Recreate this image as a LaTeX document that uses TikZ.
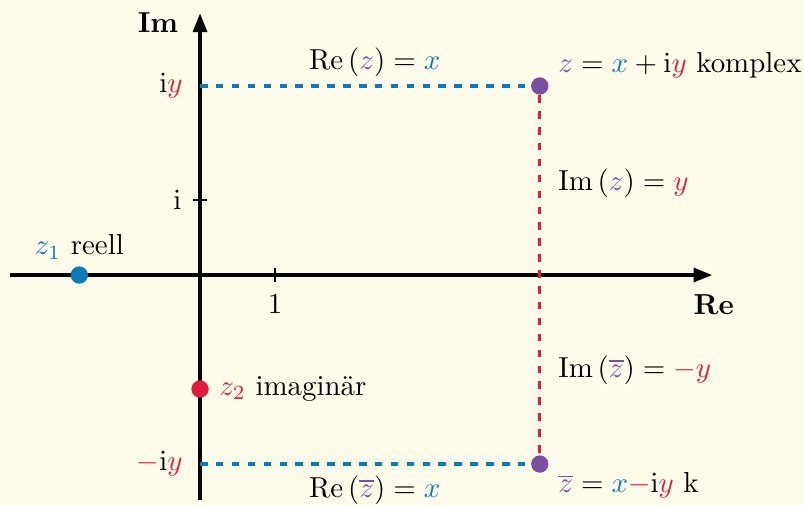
\documentclass[tikz,border=0pt]{standalone}
\usepackage{amsmath}
\usetikzlibrary{arrows.meta,positioning,calc}
\definecolor{paperbg}{HTML}{FFFBEB}
\definecolor{reblue}{HTML}{0B7BB8}
\definecolor{imred}{HTML}{E51B3A}
\definecolor{zpurple}{HTML}{7A4FA0}

\tikzset{
  axis/.style={line width=1.2pt, -{Triangle[length=6.5pt,width=4.8pt]}},
  dot/.style={circle, inner sep=0pt, minimum size=6pt},
  guide/.style={line width=1.1pt, dash pattern=on 2.6pt off 2.9pt},
}

\begin{document}
\begin{tikzpicture}[x=0.912cm,y=0.912cm]
  % paper
  \fill[paperbg] (-2.667,-3.067) rectangle (8.053,3.667);
  \useasboundingbox (-2.667,-3.067) rectangle (8.053,3.667);
  % axes
  \coordinate (xmin) at (-2.53,0);
  \coordinate (xmax) at (6.83,0);
  \coordinate (ymin) at (0,-3.0);
  \coordinate (ymax) at (0,3.49);
  \draw[axis] (xmin) -- (xmax);
  \draw[axis] (ymin) -- (ymax);
  \node[font=\bfseries] (relabel) at (6.85,-0.4) {Re};
  \node[font=\bfseries] (imlabel) at (-0.56,3.37) {Im};
  % ticks
  \coordinate (one) at (1,0);
  \coordinate (unit) at (0,1);
  \draw[line width=0.9pt] ($(one)+(0,-2.4pt)$) -- ($(one)+(0,2.4pt)$);
  \draw[line width=0.9pt] ($(unit)+(-2.4pt,0)$) -- ($(unit)+(2.4pt,0)$);
  \node[below=3.3pt of one] (onelabel) {$1$};
  \node[left=2.9pt of unit] (unitlabel) {$\mathrm{i}$};
  % points
  \coordinate (iy) at (0,2.52);
  \coordinate (miy) at (0,-2.52);
  \node[dot, fill=zpurple] (z) at (4.53,2.52) {};
  \node[dot, fill=zpurple] (zbar) at (4.53,-2.52) {};
  \node[dot, fill=reblue] (z1) at (-1.61,0) {};
  \node[dot, fill=imred] (z2) at (0,-1.52) {};
  % guides
  \draw[guide, reblue] (iy) -- (z);
  \draw[guide, reblue] (miy) -- (zbar);
  \draw[guide, imred] (z) -- (zbar);
  % labels
  \node[left=2.5pt of iy] (iylabel) {$\mathrm{i}{\color{imred}y}$};
  \node[left=2.5pt of miy] (miylabel) {${\color{imred}-}\mathrm{i}{\color{imred}y}$};
  \node (rez) at (2.33,2.84) {$\mathrm{Re}\,({\color{zpurple}z}) = {\color{reblue}x}$};
  \node (rezbar) at (2.33,-2.87) {$\mathrm{Re}\,({\color{zpurple}\overline{z}}) = {\color{reblue}x}$};
  \node[anchor=base west] (zlabel) at ($(z.center)+(2.9pt,4.8pt)$)
      {${\color{zpurple}z} = {\color{reblue}x} + \mathrm{i}{\color{imred}y}$ komplex};
  \node[anchor=base west] (zbarlabel) at ($(zbar.center)+(2.9pt,-10pt)$)
      {${\color{zpurple}\overline{z}} = {\color{reblue}x}{\color{imred}-}\mathrm{i}{\color{imred}y}$ k};
  \node[anchor=west, xshift=2.9pt] (imz) at (4.53,1.23)
      {$\mathrm{Im}\,({\color{zpurple}z}) = {\color{imred}y}$};
  \node[anchor=west, xshift=2.9pt] (imzbar) at (4.53,-1.27)
      {$\mathrm{Im}\,({\color{zpurple}\overline{z}}) = {\color{imred}-y}$};
  \node[anchor=base] (z1label) at ($(z1.center)+(0,7pt)$) {${\color{reblue}z_1}$ reell};
  \node[right=0pt of z2] (z2label) {${\color{imred}z_2}$ imaginär};
\end{tikzpicture}
\end{document}
